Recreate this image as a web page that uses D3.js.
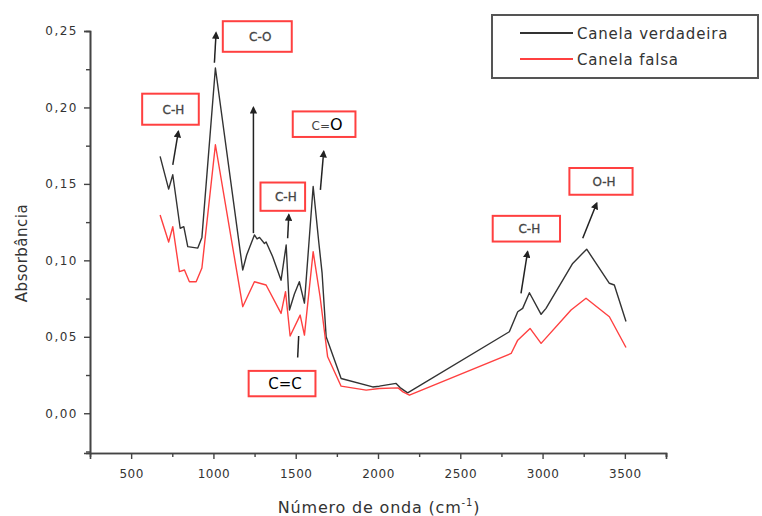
<!DOCTYPE html>
<html>
<head>
<meta charset="utf-8">
<script src="https://cdn.jsdelivr.net/npm/d3@7"></script>
<style>
  body { margin: 0; background: #fff; }
  text { font-family: "DejaVu Sans", sans-serif; fill: #333; }
</style>
</head>
<body>
<script>
"use strict";

var width = 762;
var height = 516;

// Canela verdadeira (black)
var trueWn = [676, 728, 753, 798, 820, 844, 905, 930, 1012, 1178, 1202, 1249, 1265, 1280, 1310, 1320, 1360, 1411, 1442, 1462, 1492, 1522, 1553, 1606, 1640, 1660, 1685, 1776, 1968, 2008, 2110, 2134, 2180, 2798, 2849, 2879, 2920, 2991, 3021, 3183, 3268, 3406, 3436, 3507];
var trueAbs = [0.168, 0.1466, 0.156, 0.121, 0.122, 0.109, 0.108, 0.115, 0.2258, 0.0937, 0.1035, 0.1166, 0.114, 0.115, 0.111, 0.112, 0.1024, 0.087, 0.110, 0.0675, 0.078, 0.086, 0.072, 0.1483, 0.112, 0.092, 0.050, 0.0227, 0.0172, 0.0177, 0.0195, 0.0168, 0.0133, 0.0533, 0.0664, 0.0686, 0.0788, 0.0647, 0.0686, 0.098, 0.1073, 0.085, 0.0839, 0.060];

// Canela falsa (red)
var fakeWn = [676, 728, 753, 793, 824, 854, 895, 930, 1012, 1178, 1249, 1320, 1411, 1438, 1466, 1527, 1553, 1606, 1648, 1694, 1776, 1928, 2008, 2122, 2152, 2191, 2809, 2849, 2924, 2991, 3173, 3264, 3406, 3507];
var fakeAbs = [0.1297, 0.112, 0.122, 0.0926, 0.0937, 0.086, 0.086, 0.095, 0.1756, 0.0697, 0.086, 0.0839, 0.0653, 0.0795, 0.0505, 0.0642, 0.0511, 0.1057, 0.0762, 0.0369, 0.0177, 0.0151, 0.0162, 0.0166, 0.014, 0.0118, 0.0391, 0.0478, 0.0555, 0.0457, 0.0675, 0.0752, 0.0631, 0.043];

var seriesNames = ["Canela verdadeira", "Canela falsa"];
var seriesColors = ["#333333", "#ff4040"];

var xTicks = [500, 1000, 1500, 2000, 2500, 3000, 3500];
var yTicks = [0, 0.05, 0.10, 0.15, 0.20, 0.25];

// band labels: x0, x1, yTop, yBottom in data units
var boxLabels = ["C-H", "C-O", "C=O", "C-H", "C=C", "C-H", "O-H"];
var boxX0 = [567, 1057, 1482, 1286, 1214, 2697, 3163];
var boxX1 = [911, 1476, 1863, 1557, 1620, 3106, 3547];
var boxY0 = [0.209, 0.2564, 0.1974, 0.1509, 0.0277, 0.1291, 0.1604];
var boxY1 = [0.1887, 0.2364, 0.1807, 0.1324, 0.0111, 0.1123, 0.1429];

// arrows: tail -> head in data units
var arrX1 = [753, 1006, 1243, 1451, 1650, 2869, 3244, 1512];
var arrY1 = [0.1625, 0.2292, 0.1178, 0.1145, 0.1461, 0.0784, 0.1145, 0.0365];
var arrX2 = [787, 1016, 1243, 1458, 1670, 2909, 3329, 1518];
var arrY2 = [0.1843, 0.2488, 0.1999, 0.1298, 0.1712, 0.1057, 0.1374, 0.0505];
var arrHead = [true, true, true, true, true, true, true, false];

var svg = d3.select("body").append("svg").attr("width", width).attr("height", height);

var xScale = d3.scaleLinear().domain([250, 3750]).range([90, 666]);
var yScale = d3.scaleLinear().domain([-0.026, 0.25]).range([453, 31]);

svg.append("defs").append("marker")
  .attr("id", "head").attr("viewBox", "0 0 10 10").attr("refX", 8).attr("refY", 5)
  .attr("markerWidth", 5).attr("markerHeight", 5).attr("orient", "auto")
  .append("path").attr("d", "M0,0L10,5L0,10z").attr("fill", "#222");

// axes
var fmt = function (d) { return d3.format(".2f")(d).replace(".", ","); };
var xAxis = d3.axisBottom(xScale).tickValues(xTicks).tickFormat(d3.format("d")).tickSize(6).tickPadding(10);
var yAxis = d3.axisLeft(yScale).tickValues(yTicks).tickFormat(fmt).tickSize(6).tickPadding(6);

var gx = svg.append("g").attr("transform", "translate(0," + yScale.range()[0] + ")").call(xAxis);
gx.selectAll("text").attr("font-size", 12).style("letter-spacing", "0.5px");
var gxm = svg.append("g").attr("transform", "translate(0," + yScale.range()[0] + ")")
  .call(d3.axisBottom(xScale).tickValues(d3.range(750, 3751, 500)).tickSize(4).tickFormat(""));

var gy = svg.append("g").attr("transform", "translate(" + xScale.range()[0] + ",0)").call(yAxis);
gy.selectAll("text").attr("font-size", 12).style("letter-spacing", "1.5px");
var gym = svg.append("g").attr("transform", "translate(" + xScale.range()[0] + ",0)")
  .call(d3.axisLeft(yScale).tickValues([-0.025, 0.025, 0.075, 0.125, 0.175, 0.225]).tickSize(4).tickFormat(""));

[gx, gxm, gy, gym].forEach(function (g) {
  g.select(".domain").attr("stroke", "#444").attr("stroke-width", 1.6);
  g.selectAll(".tick line").attr("stroke", "#444").attr("stroke-width", 1.4);
});

// series
var line = d3.line().x(function (d) { return xScale(d[0]); }).y(function (d) { return yScale(d[1]); });
var series = [d3.zip(trueWn, trueAbs), d3.zip(fakeWn, fakeAbs)];
series.forEach(function (s, i) {
  svg.append("path").datum(s).attr("d", line).attr("fill", "none")
    .attr("stroke", seriesColors[i]).attr("stroke-width", 1.4).attr("stroke-linejoin", "round");
});

// annotation boxes
boxLabels.forEach(function (lab, i) {
  var x0 = xScale(boxX0[i]), x1 = xScale(boxX1[i]);
  var y0 = yScale(boxY0[i]), y1 = yScale(boxY1[i]);
  svg.append("rect").attr("x", x0).attr("y", y0).attr("width", x1 - x0).attr("height", y1 - y0)
    .attr("fill", "none").attr("stroke", "#ff4040").attr("stroke-width", 2);
  var t = svg.append("text").attr("x", (x0 + x1) / 2 + 3).attr("y", (y0 + y1) / 2 + 4.5)
    .attr("text-anchor", "middle");
  if (lab === "C=O") {
    t.attr("font-size", 12).style("fill", "#444").text("C=");
    t.append("tspan").attr("font-size", 16).style("fill", "#000").text("O");
    t.attr("y", (y0 + y1) / 2 + 5.5);
  } else if (lab === "C=C") {
    t.attr("font-size", 15).style("fill", "#000").attr("y", (y0 + y1) / 2 + 5.5).text(lab);
  } else {
    t.attr("font-size", 12).style("fill", "#444").style("stroke", "#444").style("stroke-width", 0.3).text(lab);
  }
});

// arrows
arrX1.forEach(function (d, i) {
  var l = svg.append("line")
    .attr("x1", xScale(arrX1[i])).attr("y1", yScale(arrY1[i]))
    .attr("x2", xScale(arrX2[i])).attr("y2", yScale(arrY2[i]))
    .attr("stroke", "#222").attr("stroke-width", 1.5);
  if (arrHead[i]) l.attr("marker-end", "url(#head)");
});

// legend
var lg = svg.append("g");
lg.append("rect").attr("x", 492).attr("y", 15).attr("width", 266).attr("height", 63)
  .attr("fill", "none").attr("stroke", "#555").attr("stroke-width", 2);
seriesNames.forEach(function (name, i) {
  var y = 33 + i * 26;
  lg.append("line").attr("x1", 520).attr("x2", 573).attr("y1", y).attr("y2", y)
    .attr("stroke", seriesColors[i]).attr("stroke-width", 2);
  lg.append("text").attr("x", 577).attr("y", y + 5.5)
    .attr("font-size", 15).style("letter-spacing", "0.8px").text(name);
});

// axis titles
svg.append("text").attr("transform", "translate(27,253) rotate(-90)")
  .attr("text-anchor", "middle")
  .attr("font-size", 15).style("letter-spacing", "0.5px").text("Absorbância");

var xt = svg.append("text").attr("x", 379).attr("y", 513).attr("text-anchor", "middle")
  .attr("font-size", 16).style("letter-spacing", "0.8px");
xt.append("tspan").text("Número de onda (cm");
xt.append("tspan").attr("font-size", 10).attr("dy", -7).text("-1");
xt.append("tspan").attr("dy", 7).text(")");
</script>
</body>
</html>
